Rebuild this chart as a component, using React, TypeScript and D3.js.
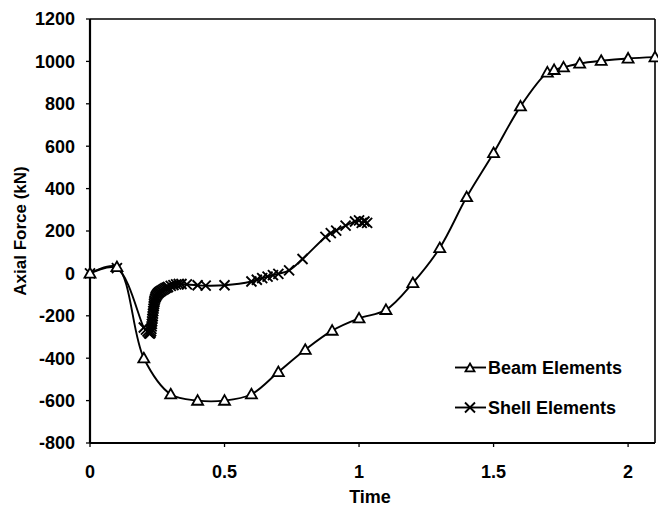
import React from "react";
import * as d3 from "d3";

const beamTime = [0, 0.1, 0.2, 0.3, 0.4, 0.5, 0.6, 0.7, 0.8, 0.9, 1.0, 1.1, 1.2, 1.3, 1.4, 1.5, 1.6, 1.7, 1.725, 1.76, 1.82, 1.9, 2.0, 2.1];
const beamForce = [0, 30, -400, -570, -600, -600, -570, -465, -360, -270, -212, -172, -45, 120, 360, 568, 788, 948, 960, 972, 990, 1003, 1014, 1020];

const shellTime = [0, 0.1, 0.2, 0.208, 0.214, 0.219, 0.222, 0.225, 0.227, 0.228, 0.229, 0.23, 0.231, 0.232, 0.233, 0.234, 0.235, 0.236, 0.237, 0.238, 0.239, 0.24, 0.242, 0.244, 0.246, 0.249, 0.252, 0.256, 0.26, 0.265, 0.27, 0.275, 0.28, 0.285, 0.29, 0.3, 0.31, 0.32, 0.33, 0.34, 0.36, 0.4, 0.43, 0.5, 0.6, 0.62, 0.64, 0.66, 0.68, 0.7, 0.74, 0.79, 0.875, 0.895, 0.915, 0.95, 0.985, 1.0, 1.01, 1.02, 1.03];
const shellForce = [0, 25, -255, -265, -274, -281, -284, -280, -272, -262, -250, -238, -226, -214, -202, -190, -178, -166, -155, -145, -136, -128, -119, -112, -106, -100, -95, -90, -86, -82, -78, -74, -70, -67, -64, -59, -55, -52, -50, -50, -52, -56, -58, -56, -38, -30, -22, -15, -8, -2, 14, 68, 172, 190, 202, 225, 245, 250, 238, 245, 238];

const xTicks = [0, 0.5, 1, 1.5, 2];
const yTicks = [-800, -600, -400, -200, 0, 200, 400, 600, 800, 1000, 1200];
const seriesNames = ["Beam Elements", "Shell Elements"];
const xTitle = "Time";
const yTitle = "Axial Force (kN)";

const W = 658;
const H = 508;
const left = 90;
const right = 655;
const top = 19;
const bottom = 443;
const FONT = "'Liberation Sans', Arial, sans-serif";

export default function App() {
  const x = d3.scaleLinear().domain([0, 2.1]).range([left, right]);
  const y = d3.scaleLinear().domain([-800, 1200]).range([bottom, top]);

  const line = d3
    .line<[number, number]>()
    .x((d) => x(d[0]))
    .y((d) => y(d[1]))
    .curve(d3.curveCatmullRom.alpha(0.5));

  const beam: [number, number][] = beamTime.map((t, i) => [t, beamForce[i]]);
  const shell: [number, number][] = shellTime.map((t, i) => [t, shellForce[i]]);

  const tri = (cx: number, cy: number, key: string | number, s = 5.5) => (
    <path
      key={key}
      d={`M${cx},${cy - s}L${cx + s},${cy + s * 0.75}L${cx - s},${cy + s * 0.75}Z`}
      fill="#fff"
      stroke="#000"
      strokeWidth={1.8}
    />
  );
  const cross = (cx: number, cy: number, key: string | number) => (
    <path
      key={key}
      d={`M${cx - 5},${cy - 5}L${cx + 5},${cy + 5}M${cx - 5},${cy + 5}L${cx + 5},${cy - 5}`}
      fill="none"
      stroke="#000"
      strokeWidth={1.9}
    />
  );

  const textStyle = { fontFamily: FONT, fill: "#000", fontWeight: 700 } as const;

  return (
    <svg
      width={W}
      height={H}
      style={{ position: "absolute", left: 0, top: 0, background: "#fff" }}
    >
      <rect x={0} y={0} width={W} height={H} fill="#fff" />
      {/* frame */}
      <line x1={left} x2={right} y1={top} y2={top} stroke="#000" strokeWidth={1.6} />
      <line x1={right} x2={right} y1={top} y2={bottom} stroke="#000" strokeWidth={1.6} />
      <line x1={left} x2={left} y1={top} y2={bottom} stroke="#000" strokeWidth={2.2} />
      <line x1={left} x2={right} y1={bottom} y2={bottom} stroke="#000" strokeWidth={2.2} />

      {/* y ticks */}
      {yTicks.map((v) => (
        <g key={`y${v}`}>
          <line x1={left - 4} x2={left} y1={y(v)} y2={y(v)} stroke="#000" strokeWidth={1.3} />
          <text x={75} y={y(v)} dy="0.36em" textAnchor="end" fontSize={18} style={textStyle}>
            {v}
          </text>
        </g>
      ))}
      {/* x ticks */}
      {xTicks.map((v) => (
        <g key={`x${v}`}>
          <line x1={x(v)} x2={x(v)} y1={bottom} y2={bottom + 4} stroke="#000" strokeWidth={1.3} />
          <text x={x(v)} y={478} textAnchor="middle" fontSize={18} style={textStyle}>
            {v}
          </text>
        </g>
      ))}

      <text x={370} y={503} textAnchor="middle" fontSize={18} style={textStyle}>
        {xTitle}
      </text>
      <text
        transform={`translate(26,${(top + bottom) / 2}) rotate(-90)`}
        textAnchor="middle"
        fontSize={17}
        style={textStyle}
      >
        {yTitle}
      </text>

      {/* series */}
      <path d={line(shell) ?? ""} fill="none" stroke="#000" strokeWidth={1.9} />
      {shell.map((d, i) => cross(x(d[0]), y(d[1]), `s${i}`))}
      <path d={line(beam) ?? ""} fill="none" stroke="#000" strokeWidth={1.9} />
      {beam.map((d, i) => tri(x(d[0]), y(d[1]), `b${i}`))}

      {/* legend */}
      <line x1={455} x2={486} y1={367.5} y2={367.5} stroke="#000" strokeWidth={1.9} />
      {tri(470, 368, "lb", 4.5)}
      <text x={488} y={374} fontSize={18} style={textStyle}>
        {seriesNames[0]}
      </text>
      <line x1={455} x2={486} y1={407.5} y2={407.5} stroke="#000" strokeWidth={1.9} />
      {cross(470, 407.5, "ls")}
      <text x={488} y={414} fontSize={18} style={textStyle}>
        {seriesNames[1]}
      </text>
    </svg>
  );
}
